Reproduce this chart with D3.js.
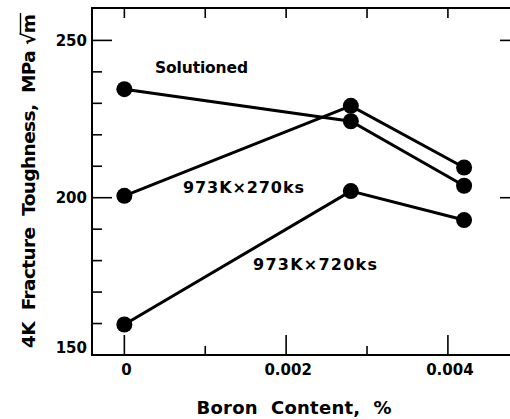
<!DOCTYPE html>
<html>
<head>
<meta charset="utf-8">
<script src="https://cdn.jsdelivr.net/npm/d3@7"></script>
<style>
  body { margin: 0; background: #fff; }
  text { font-family: "DejaVu Sans", sans-serif; font-weight: bold; fill: #000; white-space: pre; }
</style>
</head>
<body>
<div id="chart"></div>
<script>
// boron content (%) and 4K fracture toughness (MPa√m)
const boron = [0, 0.0028, 0.0042];
const solutioned = [234.5, 224.3, 203.8];
const aged270 = [200.6, 229.2, 209.6];
const aged720 = [159.7, 202.1, 192.9];

const xMajor = [0, 0.002, 0.004];
const xMinor = [0.001, 0.003];
const xTop = [0, 0.001, 0.002, 0.003, 0.004];
const yMajor = [150, 200, 250];
const yMinor = [160, 170, 180, 190, 210, 220, 230, 240];
const yRight = [200, 250];

const width = 510, height = 419;
const plotL = 92, plotR = 511, plotT = 8, plotB = 355;

const svg = d3.select("#chart").append("svg")
  .attr("width", width)
  .attr("height", height);

const x = d3.scaleLinear().domain([-0.0004, 0.00478]).range([plotL, plotR]);
const y = d3.scaleLinear().domain([150, 260.3]).range([plotB, plotT]);

// frame
svg.append("rect")
  .attr("x", plotL).attr("y", plotT)
  .attr("width", plotR - plotL).attr("height", plotB - plotT)
  .attr("fill", "none").attr("stroke", "#000").attr("stroke-width", 2);

// ticks (all point inward)
const tick = (x1, y1, x2, y2) => svg.append("line")
  .attr("x1", x1).attr("y1", y1).attr("x2", x2).attr("y2", y2)
  .attr("stroke", "#000").attr("stroke-width", 1.6);

yMajor.forEach(v => tick(plotL, y(v), plotL + 20, y(v)));
yMinor.forEach(v => tick(plotL, y(v), plotL + 10, y(v)));
yRight.forEach(v => tick(plotR, y(v), plotR - 11, y(v)));
xMajor.forEach(v => tick(x(v), plotB, x(v), plotB - 20));
xMinor.forEach(v => tick(x(v), plotB, x(v), plotB - 9));
xTop.forEach(v => tick(x(v), plotT, x(v), plotT + 10));

// tick labels
svg.selectAll(".ylab").data(yMajor).enter().append("text")
  .attr("class", "ylab")
  .attr("x", 87)
  .attr("y", d => Math.min(y(d) + 5.5, plotB - 2))
  .attr("text-anchor", "end")
  .attr("font-size", 15)
  .text(d => d);

svg.selectAll(".xlab").data(xMajor).enter().append("text")
  .attr("class", "xlab")
  .attr("x", d => x(d) + 2)
  .attr("y", 375)
  .attr("text-anchor", "middle")
  .attr("font-size", 15)
  .text(d => d === 0 ? "0" : d3.format(".3f")(d));

// axis titles
svg.append("text")
  .attr("x", 294).attr("y", 414)
  .attr("text-anchor", "middle")
  .attr("font-size", 18)
  .attr("textLength", 195)
  .text("Boron  Content,  %");

const yt = svg.append("g").attr("transform", "translate(35,348) rotate(-90)");
const ytText = yt.append("text")
  .attr("x", 0).attr("y", 0)
  .attr("font-size", 18.5)
  .attr("textLength", 334)
  .attr("lengthAdjust", "spacing");
ytText.append("tspan").text("4K  Fracture  Toughness,  MPa ");
ytText.append("tspan").text("\u221Am");
// overline of the square root over "m"
const n = ytText.node().getNumberOfChars();
const mBox = ytText.node().getExtentOfChar(n - 1);
const rBox = ytText.node().getExtentOfChar(n - 2);
yt.append("line")
  .attr("x1", rBox.x + rBox.width - 2).attr("x2", mBox.x + mBox.width + 1)
  .attr("y1", rBox.y + 2.5).attr("y2", rBox.y + 2.5)
  .attr("stroke", "#000").attr("stroke-width", 1.4);

// series
const seriesList = [solutioned, aged270, aged720];
const line = d3.line().x((d, i) => x(boron[i])).y(d => y(d));

svg.selectAll(".series").data(seriesList).enter().append("path")
  .attr("class", "series")
  .attr("d", d => line(d))
  .attr("fill", "none")
  .attr("stroke", "#000")
  .attr("stroke-width", 3);

seriesList.forEach(s => {
  svg.selectAll(null).data(s).enter().append("circle")
    .attr("cx", (d, i) => x(boron[i]))
    .attr("cy", d => y(d))
    .attr("r", 8)
    .attr("fill", "#000");
});

// series labels
svg.append("text").attr("x", 155).attr("y", 73).attr("font-size", 15.5)
  .attr("textLength", 93).text("Solutioned");
svg.append("text").attr("x", 183).attr("y", 193).attr("font-size", 16)
  .attr("textLength", 121).text("973K\u00D7270ks");
svg.append("text").attr("x", 253).attr("y", 270).attr("font-size", 16)
  .attr("textLength", 124).text("973K\u00D7720ks");
</script>
</body>
</html>
